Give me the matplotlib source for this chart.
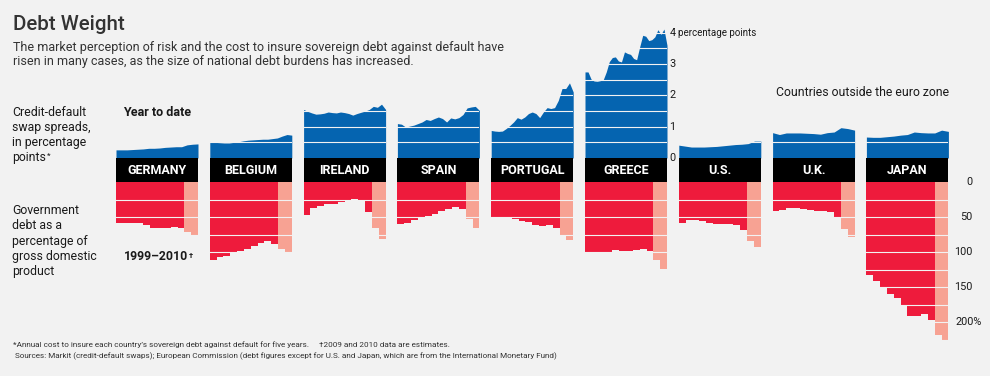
import numpy as np
import matplotlib
matplotlib.use('Agg')
import matplotlib.pyplot as plt
from matplotlib.text import Annotation

plt.rcParams['font.family'] = ['Roboto', 'DejaVu Sans']

# Colours
BG = '#f2f2f2'
BLUE = '#0564b0'
RED = '#ee1b3c'
PINK = '#f7a293'
INK = '#1a1a1a'

countries = ['GERMANY', 'BELGIUM', 'IRELAND', 'SPAIN', 'PORTUGAL', 'GREECE', 'U.S.', 'U.K.', 'JAPAN']
years = list(range(1999, 2011))
estimate_years = [2009, 2010]

# Government debt, % of GDP, 1999-2010
debt_germany = [59, 58, 58, 59, 62, 65, 66, 65, 64, 65, 71, 75]
debt_belgium = [112, 107, 105, 102, 98, 95, 91, 87, 84, 89, 96, 100]
debt_ireland = [47, 37, 34, 32, 31, 29, 27, 24, 25, 43, 65, 81]
debt_spain = [60, 58, 54, 51, 48, 45, 42, 39, 35, 39, 53, 65]
debt_portugal = [51, 50, 51, 53, 55, 57, 62, 63, 62, 65, 75, 83]
debt_greece = [100, 100, 101, 100, 97, 98, 99, 97, 95, 98, 111, 124]
debt_us = [59, 54, 54, 56, 58, 60, 60, 60, 61, 69, 84, 93]
debt_uk = [42, 40, 37, 37, 39, 40, 41, 42, 43, 51, 67, 78]
debt_japan = [133, 141, 151, 160, 166, 177, 192, 191, 188, 197, 219, 227]

# Credit-default swap spreads, year to date, percentage points
cds_germany = [0.26, 0.26, 0.26, 0.27, 0.28, 0.29, 0.31, 0.31, 0.32, 0.34, 0.35, 0.36, 0.36, 0.42, 0.44, 0.45]
cds_belgium = [0.53, 0.50, 0.49, 0.48, 0.48, 0.50, 0.52, 0.55, 0.57, 0.58, 0.59, 0.60, 0.60, 0.62, 0.64, 0.70, 0.75, 0.73]
cds_ireland = [1.55, 1.49, 1.44, 1.40, 1.41, 1.43, 1.47, 1.45, 1.44, 1.47, 1.45, 1.42, 1.37, 1.42, 1.46, 1.50,
               1.55, 1.65, 1.62, 1.72, 1.55]
cds_spain = [1.10, 1.08, 0.99, 1.02, 1.05, 1.10, 1.15, 1.23, 1.20, 1.26, 1.31, 1.26, 1.15, 1.28, 1.25, 1.29,
             1.39, 1.60, 1.63, 1.65, 1.52]
cds_portugal = [0.88, 0.86, 0.85, 0.86, 0.94, 1.04, 1.15, 1.29, 1.24, 1.31, 1.42, 1.47, 1.42, 1.29, 1.47, 1.61,
                1.58, 1.61, 1.84, 2.22, 2.22, 2.40, 2.11]
cds_greece = [2.75, 2.75, 2.52, 2.46, 2.45, 2.47, 2.50, 2.75, 3.08, 3.21, 3.23, 3.10, 3.07, 3.39, 3.34, 3.31,
              3.18, 3.14, 3.55, 3.92, 3.89, 3.75, 3.78, 3.87, 4.10, 3.95, 4.12, 3.60]
cds_us = [0.41, 0.38, 0.35, 0.35, 0.35, 0.36, 0.37, 0.39, 0.41, 0.43, 0.44, 0.46, 0.54, 0.54]
cds_uk = [0.81, 0.75, 0.80, 0.80, 0.80, 0.79, 0.78, 0.76, 0.81, 0.83, 0.97, 0.94, 0.89]
cds_japan = [0.67, 0.66, 0.66, 0.68, 0.70, 0.73, 0.75, 0.83, 0.81, 0.80, 0.80, 0.89, 0.85]

debt = [debt_germany, debt_belgium, debt_ireland, debt_spain, debt_portugal,
        debt_greece, debt_us, debt_uk, debt_japan]
cds = [cds_germany, cds_belgium, cds_ireland, cds_spain, cds_portugal,
       cds_greece, cds_us, cds_uk, cds_japan]

cds_ticks = [0, 1, 2, 3, 4]
debt_ticks = [0, 50, 100, 150, 200]

# Layout in pixels
W, H = 990, 376
fig = plt.figure(figsize=(W / 100, H / 100), dpi=100, facecolor=BG)


def box(x, y, w, h):
    return fig.add_axes([x / W, 1 - (y + h) / H, w / W, h / H])


def txt(x, y, s, **kw):
    return fig.text(x / W, 1 - y / H, s, **kw)


def sup(t, s, size):
    # small superscript mark tacked onto the end of a text
    fig.add_artist(Annotation(s, xy=(1, 1), xycoords=t, xytext=(0.5, -1.5),
                              textcoords='offset points', ha='left', va='top',
                              fontsize=size, color=t.get_color(),
                              fontweight=t.get_fontweight()))


PW = 82            # panel width
STEP = 93.8        # panel spacing
TOP_Y, TOP_H = 20, 138
BAND_H = 24
BOT_Y, BOT_H = 182, 164
CDS_PX = 31.3      # pixels per percentage point
DEBT_PX = 0.7      # pixels per percent of GDP

bar_colors = [PINK if yr in estimate_years else RED for yr in years]
axes_top, axes_bot = {}, {}

for i, name in enumerate(countries):
    x0 = 116 + STEP * i

    # credit-default swap spreads
    ax = box(x0, TOP_Y, PW, TOP_H)
    vals = cds[i]
    ax.fill_between(np.linspace(0, 1, len(vals)), 0, vals, color=BLUE, lw=0)
    for g in np.arange(0.5, 4.5, 0.5):
        ax.axhline(g, color=BG, lw=0.8)
    ax.set_xlim(0, 1)
    ax.set_ylim(0, TOP_H / CDS_PX)
    ax.axis('off')
    axes_top[name] = ax

    # country name band
    band = box(x0, TOP_Y + TOP_H, PW, BAND_H)
    band.set_facecolor('black')
    band.set_xticks([])
    band.set_yticks([])
    for sp in band.spines.values():
        sp.set_visible(False)
    band.text(0.5, 0.5, name, transform=band.transAxes, ha='center', va='center',
              color='white', fontsize=9, fontweight='bold')

    # government debt
    ax = box(x0, BOT_Y, PW, BOT_H)
    ax.bar(np.arange(len(years)), debt[i], width=1, align='edge', color=bar_colors, lw=0)
    for g in range(25, 250, 25):
        ax.axhline(g, color=BG, lw=0.8)
    ax.set_xlim(0, len(years))
    ax.set_ylim(BOT_H / DEBT_PX, 0)
    ax.axis('off')
    axes_bot[name] = ax

# scale labels, drawn on the figure so no panel covers them
ax = axes_top['GREECE']
for t in cds_ticks:
    fig.text(1.03, t, str(t), transform=ax.get_yaxis_transform(),
             ha='left', va='center', fontsize=7.8, color=INK)
fig.text(1.135, cds_ticks[-1], 'percentage points', transform=ax.get_yaxis_transform(),
         ha='left', va='center', fontsize=7, color=INK)

ax = axes_bot['JAPAN']
for t in debt_ticks:
    if t == debt_ticks[-1]:
        fig.text(1.085, t, f'{t}%', transform=ax.get_yaxis_transform(),
                 ha='left', va='center', fontsize=7.8, color=INK)
    else:
        fig.text(1.29, t, str(t), transform=ax.get_yaxis_transform(),
                 ha='right', va='center', fontsize=7.8, color=INK)

# Titles and notes
txt(13, 30.5, 'Debt Weight', fontsize=14.8, color='#333333', va='baseline', fontweight='medium')
txt(13, 51, 'The market perception of risk and the cost to insure sovereign debt against default have',
    fontsize=9, color='#333333', va='baseline')
txt(13, 65, 'risen in many cases, as the size of national debt burdens has increased.',
    fontsize=9, color='#333333', va='baseline')

lines = ['Credit-default', 'swap spreads,', 'in percentage', 'points']
for k, line in enumerate(lines):
    t = txt(12, 115.7 + 15 * k, line, fontsize=8.8, color=INK, va='baseline')
sup(t, '*', 6)
for k, line in enumerate(['Government', 'debt as a', 'percentage of', 'gross domestic', 'product']):
    txt(12, 214.3 + 15.1 * k, line, fontsize=8.8, color=INK, va='baseline')

txt(123, 116, 'Year to date', fontsize=9, fontweight='bold', color=INK, va='baseline')
t = txt(124, 260, '1999\u20132010', fontsize=8.8, fontweight='bold', color=INK, va='baseline')
sup(t, '\u2020', 5.5)
txt(776, 96, 'Countries outside the euro zone', fontsize=8.8, color=INK, va='baseline')

txt(13, 347, '*Annual cost to insure each country\u2019s sovereign debt against default for five years.'
    '     \u20202009 and 2010 data are estimates.', fontsize=5.9, color='#333333', va='baseline')
txt(15, 358, 'Sources: Markit (credit-default swaps); European Commission (debt figures except for U.S. '
    'and Japan, which are from the International Monetary Fund)', fontsize=5.9, color='#333333',
    va='baseline')

fig.savefig('out.png', dpi=100, facecolor=BG)
